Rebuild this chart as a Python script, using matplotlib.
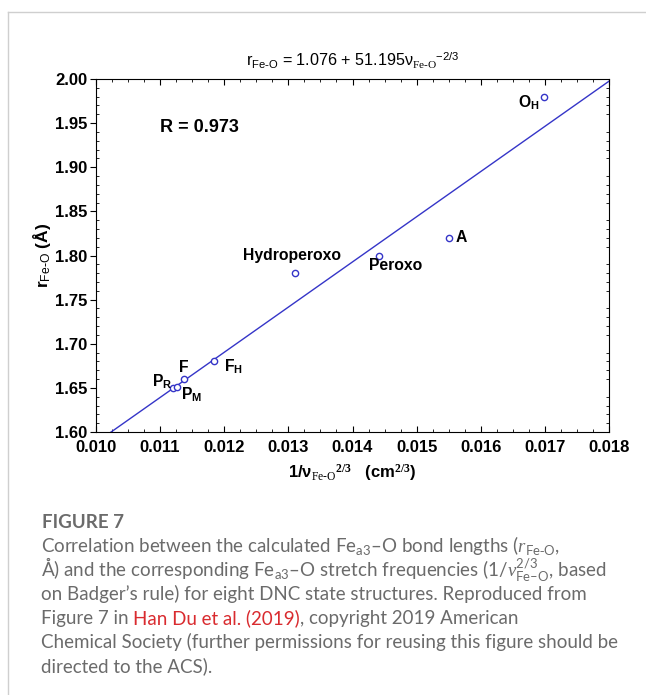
import matplotlib
matplotlib.use("Agg")
import matplotlib.pyplot as plt
from matplotlib.ticker import MultipleLocator
from matplotlib.lines import Line2D
import numpy as np

# données
etats = ["O$_\\mathregular{H}$", "A", "Peroxo", "Hydroperoxo", "F$_\\mathregular{H}$", "F",
         "P$_\\mathregular{R}$", "P$_\\mathregular{M}$"]
inv_nu = [0.01699, 0.01550, 0.01441, 0.01310, 0.01184, 0.01137, 0.01120, 0.01126]
r_fe_o = [1.980, 1.820, 1.800, 1.780, 1.681, 1.660, 1.650, 1.651]
intercept, pente = 1.076, 51.195
x_ticks = [0.010, 0.011, 0.012, 0.013, 0.014, 0.015, 0.016, 0.017, 0.018]
y_ticks = [1.60, 1.65, 1.70, 1.75, 1.80, 1.85, 1.90, 1.95, 2.00]

# décalages des étiquettes (pixels) et alignement
decalages = {"O$_\\mathregular{H}$": (-5, -6, "right"), "A": (7, 0, "left"),
             "Peroxo": (17, -10, "center"), "Hydroperoxo": (-3, 18, "center"),
             "F$_\\mathregular{H}$": (10, -6, "left"), "F": (0, 12, "center"),
             "P$_\\mathregular{R}$": (-1, 6, "right"), "P$_\\mathregular{M}$": (4, -8, "left")}

plt.rcParams['font.family'] = ['Liberation Sans', 'DejaVu Sans']
plt.rcParams['mathtext.fontset'] = 'custom'
plt.rcParams['mathtext.rm'] = 'Liberation Serif'
plt.rcParams['mathtext.it'] = 'Liberation Serif:italic'
plt.rcParams['mathtext.bf'] = 'Liberation Serif:bold'
plt.rcParams['mathtext.sf'] = 'Liberation Sans'

bleu = '#3535c8'
fig = plt.figure(figsize=(6.46, 6.95), dpi=100)
ax = fig.add_axes([96/646, 1 - 432/695, 513/646, 353/695])

xs = np.array([0.0100, 0.0180])
ax.plot(xs, intercept + pente * xs, color=bleu, lw=1.0)
ax.plot(inv_nu, r_fe_o, 'o', mfc='white', mec=bleu, ms=4.5, mew=1.0, ls='none')

for nom, x, y in zip(etats, inv_nu, r_fe_o):
    dx, dy, ha = decalages[nom]
    ax.annotate(nom, (x, y), xytext=(dx, dy), textcoords='offset pixels',
                ha=ha, va='center', fontsize=11.3, fontweight='bold')

ax.text(0.01100, 1.945, "R = 0.973", fontsize=13, fontweight='bold', va='center')

ax.set_xlim(0.010, 0.018)
ax.set_ylim(1.60, 2.00)
ax.set_xticks(x_ticks)
ax.set_yticks(y_ticks)
ax.set_xticklabels([f"{v:.3f}" for v in x_ticks], fontweight='bold', fontsize=12)
ax.set_yticklabels([f"{v:.2f}" for v in y_ticks], fontweight='bold', fontsize=12)
ax.xaxis.set_minor_locator(MultipleLocator(0.00025))
ax.yaxis.set_minor_locator(MultipleLocator(0.01))
ax.tick_params(axis='x', which='both', direction='in', top=True, pad=6)
ax.tick_params(axis='y', which='major', direction='out', right=False, pad=2)
ax.tick_params(axis='y', which='minor', direction='in', right=True)
ax.tick_params(which='major', length=4, width=0.8)
ax.tick_params(which='minor', length=2, width=0.6)
for s in ax.spines.values():
    s.set_linewidth(0.8)

ax.set_title(r"r$_{\mathsf{Fe}\text{-}\mathsf{O}}$ = 1.076 + 51.195ν$_{\mathrm{Fe}\text{-}\mathrm{O}}$$^{\mathsf{-2/3}}$",
             fontsize=11.6, pad=9)
ax.set_xlabel(r"1/ν$_{\mathrm{Fe}\text{-}\mathrm{O}}$$^{\mathbf{2/3}}$   (cm$^{\mathbf{2/3}}$)",
              fontsize=12, fontweight='bold', labelpad=5)
ax.set_ylabel(r"r$_{\mathsf{Fe}\text{-}\mathsf{O}}$ (Å)", fontsize=12.5, fontweight='bold', labelpad=2)

# cadre gris de la page
fig.add_artist(Line2D([7.5/646, 7.5/646], [0, 1 - 12/695], color='#cfcfcf', lw=1))
fig.add_artist(Line2D([7.5/646, 1], [1 - 12/695, 1 - 12/695], color='#cfcfcf', lw=1))

# légende de la figure
gris = '#6b6b6b'
police = ['Lato', 'DejaVu Sans']
taille = 13.5
fig.text(42/646, 1 - 528/695, "FIGURE 7", fontsize=13.5, color=gris, family=police,
         fontweight='bold', va='baseline')
lignes = [
    r"Correlation between the calculated Fe$\mathregular{_{a3}}$–O bond lengths ($\mathit{r}\mathregular{_{Fe\text{-}O}}$,",
    r"Å) and the corresponding Fe$\mathregular{_{a3}}$–O stretch frequencies (1/$\mathit{ν}\mathregular{^{2/3}_{Fe–O}}$, based",
    "on Badger’s rule) for eight DNC state structures. Reproduced from",
    None,
    "Chemical Society (further permissions for reusing this figure should be",
    "directed to the ACS).",
]
y0 = 552
for i, l in enumerate(lignes):
    y = 1 - (y0 + 24 * i) / 695
    if l is None:
        t1 = fig.text(41/646, y, "Figure 7 in ", fontsize=taille, color=gris, family=police, va='baseline')
        fig.canvas.draw()
        x1 = t1.get_window_extent().x1 / fig.bbox.width
        t2 = fig.text(x1, y, "Han Du et al. (2019)", fontsize=taille, color='#d92b2f', family=police, va='baseline')
        fig.canvas.draw()
        x2 = t2.get_window_extent().x1 / fig.bbox.width
        fig.text(x2, y, ", copyright 2019 American", fontsize=taille, color=gris, family=police, va='baseline')
    else:
        fig.text(41/646, y, l, fontsize=taille, color=gris, family=police, va='baseline')

fig.savefig("out.png", dpi=100)
